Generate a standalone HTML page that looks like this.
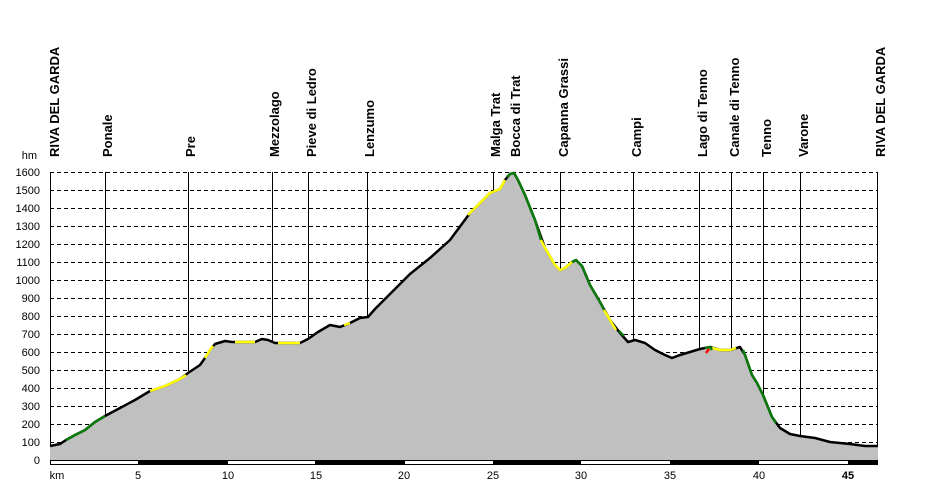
<!DOCTYPE html>
<html><head><meta charset="utf-8"><style>
body{margin:0;background:#fff}
svg{display:block}
text{font-family:"Liberation Sans",Arial,sans-serif}
.yl{font-size:11px;fill:#000;text-anchor:end}
.lb{font-size:13px;font-weight:bold;fill:#000;text-anchor:start}
</style></head><body>
<svg width="927" height="500" xmlns="http://www.w3.org/2000/svg">
<g stroke="#000" stroke-width="1" stroke-dasharray="4,3">
<line x1="50" y1="172.5" x2="878" y2="172.5"/><line x1="50" y1="190.5" x2="878" y2="190.5"/><line x1="50" y1="208.5" x2="878" y2="208.5"/><line x1="50" y1="226.5" x2="878" y2="226.5"/><line x1="50" y1="244.5" x2="878" y2="244.5"/><line x1="50" y1="262.5" x2="878" y2="262.5"/><line x1="50" y1="280.5" x2="878" y2="280.5"/><line x1="50" y1="298.5" x2="878" y2="298.5"/><line x1="50" y1="316.5" x2="878" y2="316.5"/><line x1="50" y1="334.5" x2="878" y2="334.5"/><line x1="50" y1="352.5" x2="878" y2="352.5"/><line x1="50" y1="370.5" x2="878" y2="370.5"/><line x1="50" y1="388.5" x2="878" y2="388.5"/><line x1="50" y1="406.5" x2="878" y2="406.5"/><line x1="50" y1="424.5" x2="878" y2="424.5"/><line x1="50" y1="442.5" x2="878" y2="442.5"/>
</g>
<g stroke="#000" stroke-width="1">
<line x1="50.5" y1="172" x2="50.5" y2="460"/><line x1="105.5" y1="172" x2="105.5" y2="460"/><line x1="188.5" y1="172" x2="188.5" y2="460"/><line x1="272.5" y1="172" x2="272.5" y2="460"/><line x1="308.5" y1="172" x2="308.5" y2="460"/><line x1="367.5" y1="172" x2="367.5" y2="460"/><line x1="493.5" y1="172" x2="493.5" y2="460"/><line x1="514.5" y1="172" x2="514.5" y2="460"/><line x1="560.5" y1="172" x2="560.5" y2="460"/><line x1="633.5" y1="172" x2="633.5" y2="460"/><line x1="699.5" y1="172" x2="699.5" y2="460"/><line x1="731.5" y1="172" x2="731.5" y2="460"/><line x1="763.5" y1="172" x2="763.5" y2="460"/><line x1="800.5" y1="172" x2="800.5" y2="460"/><line x1="877.5" y1="172" x2="877.5" y2="460"/>
</g>
<polygon fill="#c0c0c0" points="50,460 50,446 60,444 66,440 75,435 85,430 95,422 105,416 120,408 135,400 150,391 165,386 180,379 188,373 200,365 205,358 210,350 215,344 225,341 232,342 255,342 262,339 268,340 275,343 300,343 308,339 318,332 330,325 340,327 350,323 360,318 368,317 375,309 390,294 410,274 430,258 450,240 470,213 480,203 490,193 500,189 505,180 510,174 514,173 518,180 525,195 535,220 545,248 555,265 560,270 565,268 572,262 576,260 582,266 590,285 600,302 610,320 620,333 628,342 635,340 645,343 655,350 665,355 672,358 680,355 690,352 700,349 710,347 720,350 730,350 740,347 745,355 752,375 757,383 763,395 772,417 780,428 790,434 800,436 815,438 830,442 850,444 865,446 878,446 878,460"/>
<polyline fill="none" stroke="#000" stroke-width="2.5" stroke-linejoin="round" points="50,446 60,444 66,440 75,435 85,430 95,422 105,416 120,408 135,400 150,391 165,386 180,379 188,373 200,365 205,358 210,350 215,344 225,341 232,342 255,342 262,339 268,340 275,343 300,343 308,339 318,332 330,325 340,327 350,323 360,318 368,317 375,309 390,294 410,274 430,258 450,240 470,213 480,203 490,193 500,189 505,180 510,174 514,173 518,180 525,195 535,220 545,248 555,265 560,270 565,268 572,262 576,260 582,266 590,285 600,302 610,320 620,333 628,342 635,340 645,343 655,350 665,355 672,358 680,355 690,352 700,349 710,347 720,350 730,350 740,347 745,355 752,375 757,383 763,395 772,417 780,428 790,434 800,436 815,438 830,442 850,444 865,446 878,446"/>
<g fill="none" stroke-width="2.5" stroke-linejoin="round">
<polyline stroke="#0a7a0a" points="66,440 75,435 85,430 95,422 105,416"/>
<polyline stroke="#ffff00" points="150,391 165,386 180,379 186,375"/>
<polyline stroke="#ffff00" points="205,358 210,350 213,346"/>
<polyline stroke="#ffff00" points="235,342 255,342"/>
<polyline stroke="#ffff00" points="278,343 300,343"/>
<polyline stroke="#ffff00" points="344,325 350,323"/>
<polyline stroke="#ffff00" points="468,215 480,203 490,193 500,189 505,180"/>
<polyline stroke="#0a7a0a" points="507,177 510,174 514,173 518,180 525,195 535,220 541,240"/>
<polyline stroke="#ffff00" points="541,240 545,248 555,265 560,270 565,268 572,262"/>
<polyline stroke="#0a7a0a" points="572,262 576,260 582,266 590,285 600,302 604,310"/>
<polyline stroke="#ffff00" points="604,310 610,320 616,330"/>
<polyline stroke="#0a7a0a" points="619,331 624,336"/>
<polyline stroke="#ffff00" points="712,348 720,350 730,350 736,348"/>
<polyline stroke="#0a7a0a" points="705,348 710,347 712,350"/>
<polyline stroke="#ff0000" points="706,353 709,349"/>
<polyline stroke="#0a7a0a" points="743,350 745,355 752,375 757,383 763,395 772,417 776,423"/>
</g>
<rect x="50.5" y="460.5" width="827" height="4" fill="#fff" stroke="#000"/>
<g fill="#000"><rect x="138" y="461" width="90" height="3"/><rect x="315" y="461" width="90" height="3"/><rect x="493" y="461" width="88" height="3"/><rect x="670" y="461" width="89" height="3"/><rect x="848" y="461" width="30" height="3"/></g>
<g class="yl">
<text x="40" y="176">1600</text><text x="40" y="194">1500</text><text x="40" y="212">1400</text><text x="40" y="230">1300</text><text x="40" y="248">1200</text><text x="40" y="266">1100</text><text x="40" y="284">1000</text><text x="40" y="302">900</text><text x="40" y="320">800</text><text x="40" y="338">700</text><text x="40" y="356">600</text><text x="40" y="374">500</text><text x="40" y="392">400</text><text x="40" y="410">300</text><text x="40" y="428">200</text><text x="40" y="446">100</text><text x="40" y="464">0</text>
<text x="37" y="159">hm</text>
</g>
<g font-size="11" text-anchor="middle">
<text x="57" y="479">km</text><text x="138" y="479">5</text><text x="228" y="479">10</text><text x="316" y="479">15</text><text x="404" y="479">20</text><text x="493" y="479">25</text><text x="581" y="479">30</text><text x="670" y="479">35</text><text x="759" y="479">40</text><text x="848" y="479" font-weight="bold">45</text>
</g>
<g class="lb">
<text transform="translate(59,157) rotate(-90)">RIVA DEL GARDA</text>
<text transform="translate(112,157) rotate(-90)">Ponale</text>
<text transform="translate(195,157) rotate(-90)">Pre</text>
<text transform="translate(279,157) rotate(-90)">Mezzolago</text>
<text transform="translate(316,157) rotate(-90)">Pieve di Ledro</text>
<text transform="translate(374,157) rotate(-90)">Lenzumo</text>
<text transform="translate(500,157) rotate(-90)">Malga Trat</text>
<text transform="translate(520,157) rotate(-90)">Bocca di Trat</text>
<text transform="translate(568,157) rotate(-90)">Capanna Grassi</text>
<text transform="translate(641,157) rotate(-90)">Campi</text>
<text transform="translate(707,157) rotate(-90)">Lago di Tenno</text>
<text transform="translate(739,157) rotate(-90)">Canale di Tenno</text>
<text transform="translate(771,157) rotate(-90)">Tenno</text>
<text transform="translate(808,157) rotate(-90)">Varone</text>
<text transform="translate(885,157) rotate(-90)">RIVA DEL GARDA</text>
</g>
</svg>
</body></html>
